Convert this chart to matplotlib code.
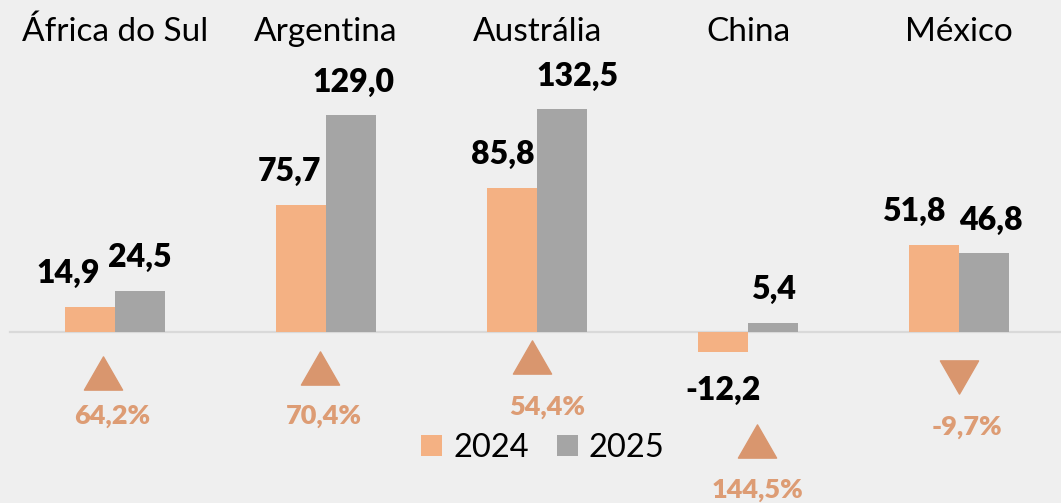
import numpy as np
import matplotlib
matplotlib.use("Agg")
import matplotlib.pyplot as plt
from matplotlib.path import Path
import matplotlib.transforms as mtransforms

# data
countries = ['África do Sul', 'Argentina', 'Austrália', 'China', 'México']
val_2024 = [14.9, 75.7, 85.8, -12.2, 51.8]
val_2025 = [24.5, 129.0, 132.5, 5.4, 46.8]
pct_change = [64.2, 70.4, 54.4, 144.5, -9.7]

# colours
BG = '#efefef'
C24 = '#f4b183'
C25 = '#a5a5a5'
ARROW = '#d9966e'
PCT = '#dd9c74'

plt.rcParams['font.family'] = ['Lato', 'DejaVu Sans']

fig = plt.figure(figsize=(10.61, 5.03), dpi=100)
fig.patch.set_facecolor(BG)
ax = fig.add_axes([0, 0, 1, 1])
ax.set_facecolor(BG)

x = np.arange(len(countries))
w = 0.237
bars24 = ax.bar(x - w / 2, val_2024, w, color=C24, label='2024', zorder=3)
bars25 = ax.bar(x + w / 2, val_2025, w, color=C25, label='2025', zorder=3)

ax.set_xlim(-0.545, 4.483)
ax.set_ylim(-101.8, 197.6)
ax.axhline(0, xmin=10 / 1061, xmax=1, color='#d9d9d9', lw=1.6, zorder=2)

# category names on top
trans = mtransforms.blended_transform_factory(ax.transData, ax.transAxes)
for i, name in enumerate(countries):
    ax.text(i, 1 - 32 / 503, name, transform=trans, ha='center', va='center',
            fontsize=24, color='black')

# value labels (hand nudged, px)
dx24 = [-22, -12, -9, 0, -20]
dx25 = [0, 2, 15, 0, 7]
px = 0.72
for i in range(len(countries)):
    for v, xc, dx in ((val_2024[i], x[i] - w / 2, dx24[i]), (val_2025[i], x[i] + w / 2, dx25[i])):
        dy = 33 if v >= 0 else -38
        ax.annotate(f'{v:.1f}'.replace('.', ','), (xc, v), xytext=(dx * px, dy * px),
                    textcoords='offset points', ha='center', va='center',
                    fontsize=23, fontweight='heavy', color='black', zorder=4)

# change markers and percentages
tri_dx = [-0.057, -0.028, -0.024, 0.043, 0.0]
tri_y = [-24.4, -21.4, -14.9, -64.9, -26.8]
pct_dx = [-0.014, -0.009, 0.047, 0.043, 0.038]
pct_y = [-50, -50, -44.6, -94, -56.5]
up = Path([(-1, -0.87), (1, -0.87), (0, 0.87), (-1, -0.87)],
          [Path.MOVETO, Path.LINETO, Path.LINETO, Path.CLOSEPOLY])
down = Path([(-1, 0.87), (1, 0.87), (0, -0.87), (-1, 0.87)],
            [Path.MOVETO, Path.LINETO, Path.LINETO, Path.CLOSEPOLY])
for i, p in enumerate(pct_change):
    mk = up if p >= 0 else down
    ax.plot(x[i] + tri_dx[i], tri_y[i], marker=mk, markersize=27.5, color=ARROW,
            linestyle='none', zorder=4)
    ax.text(x[i] + pct_dx[i], pct_y[i], f'{p:.1f}%'.replace('.', ','), ha='center', va='center',
            fontsize=19.5, fontweight='heavy', color=PCT, zorder=4)

leg = ax.legend(handles=[bars24, bars25], loc='center', bbox_to_anchor=(543 / 1061, 1 - 448 / 503),
                ncol=2, frameon=False, fontsize=23.5, handlelength=0.64, handleheight=0.64,
                handletextpad=0.34, columnspacing=0.86, borderpad=0)

ax.axis('off')
fig.savefig('out.png', dpi=100, facecolor=BG)
